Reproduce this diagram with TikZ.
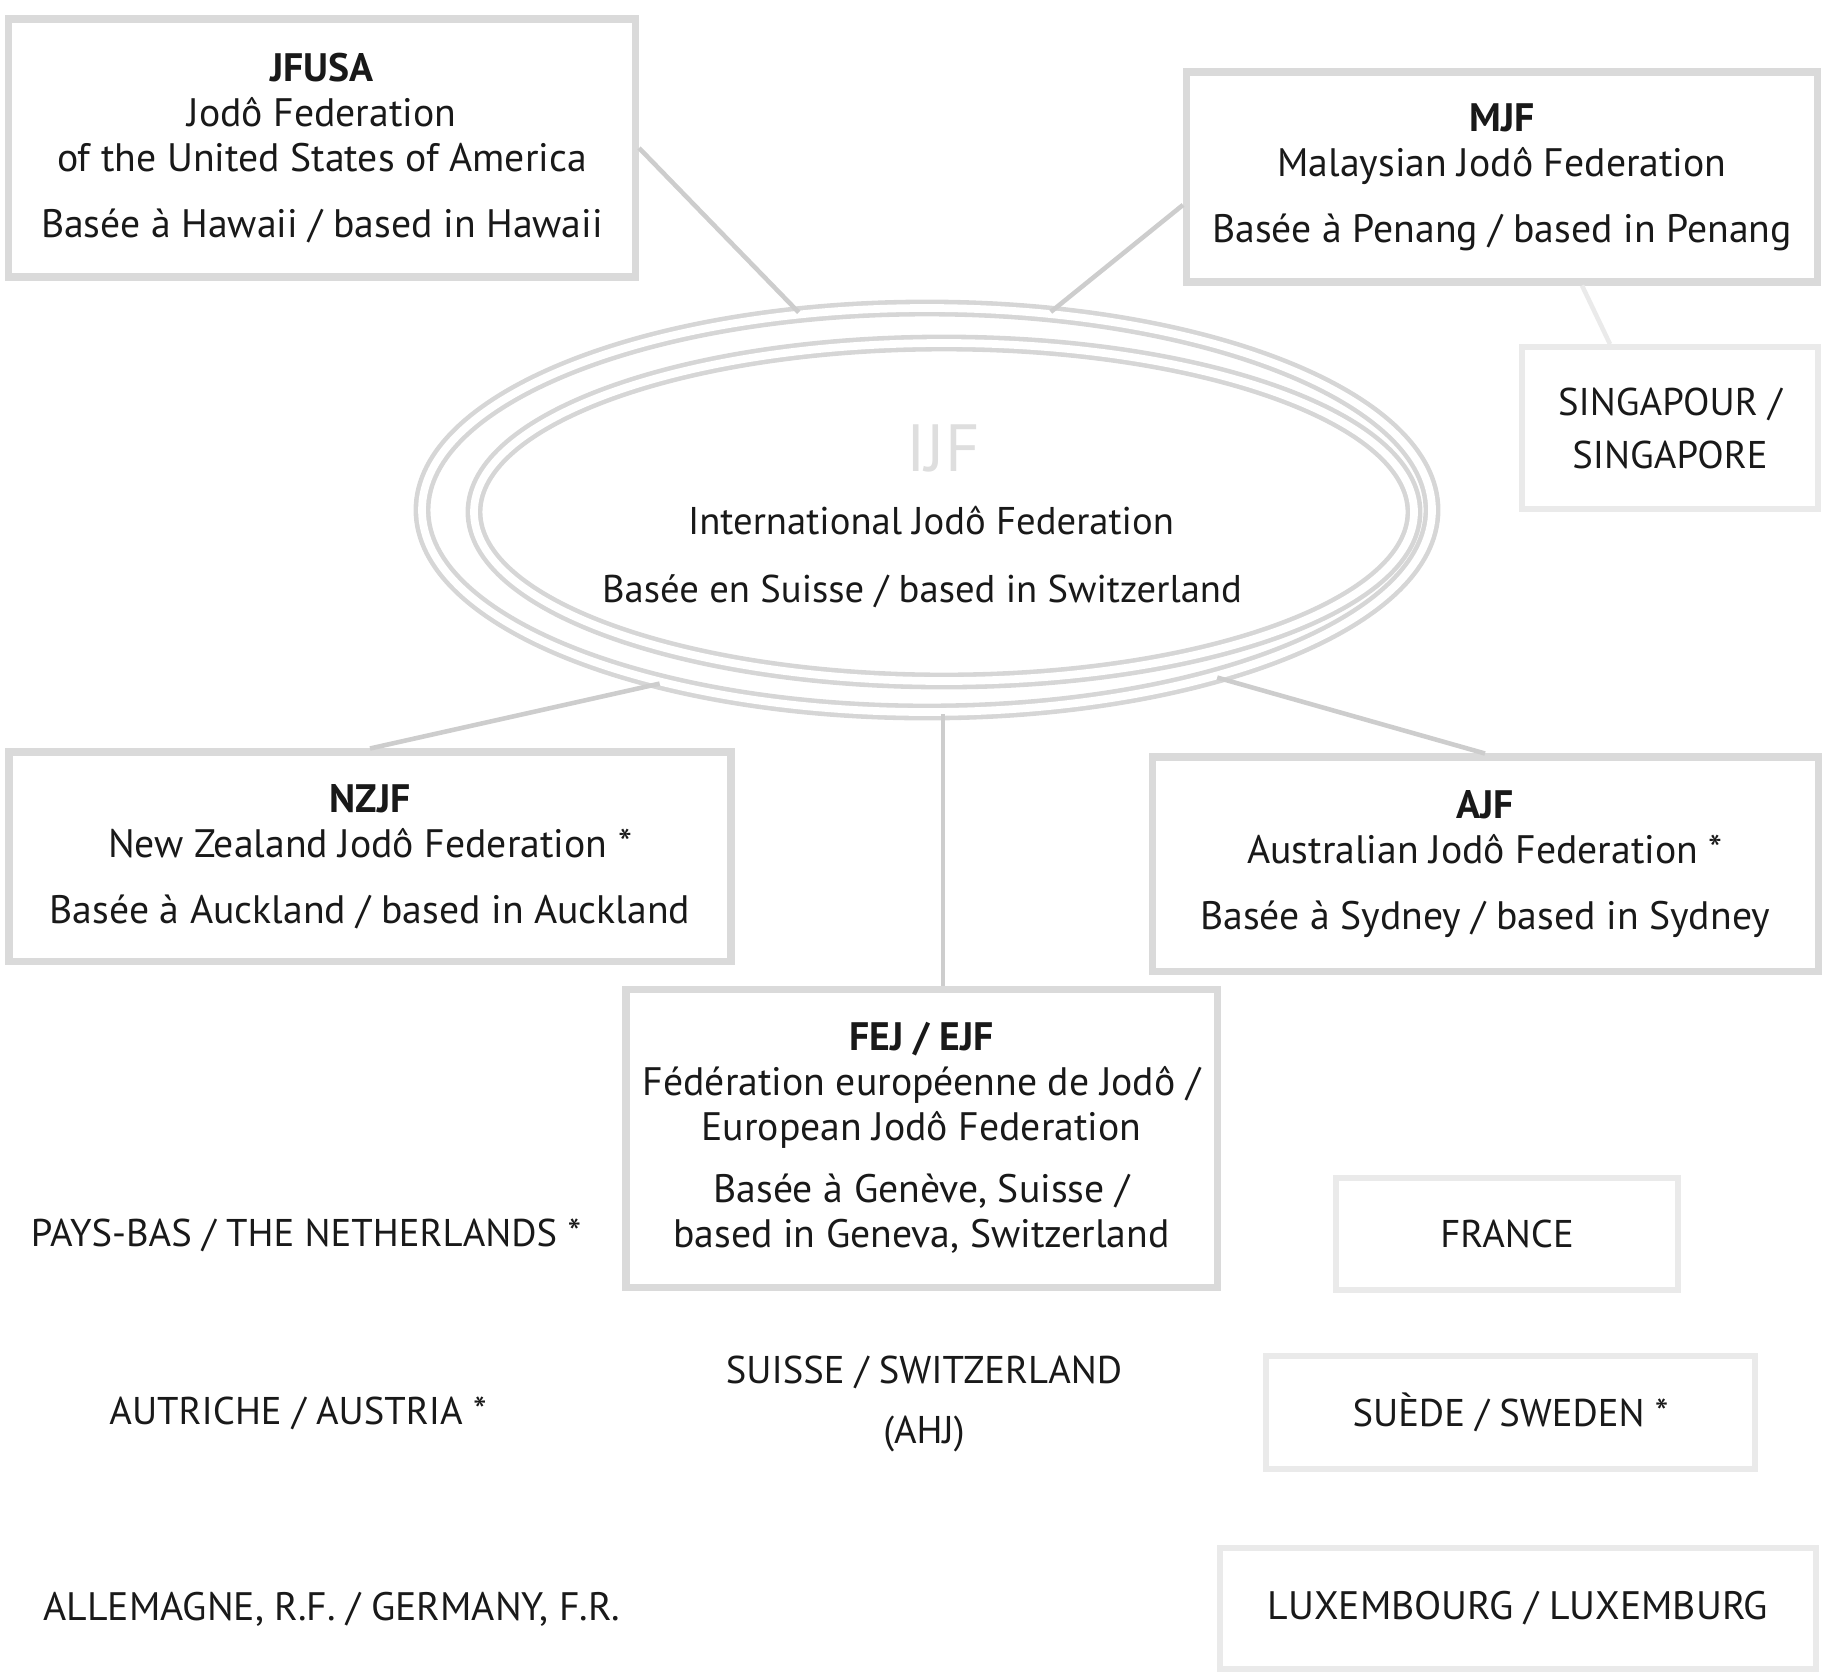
\documentclass[tikz,border=0pt]{standalone}
\usepackage{fontspec}
\setmainfont{PT Sans}
\usetikzlibrary{calc, shapes.geometric, positioning}
\definecolor{mytext}{RGB}{25,25,25}
\definecolor{myframe}{RGB}{218,218,218}
\definecolor{mypale}{RGB}{234,234,234}
\definecolor{myring}{RGB}{214,214,214}
\definecolor{mylink}{RGB}{205,205,205}
\definecolor{mylogo}{RGB}{222,222,222}
\newcommand{\fedsize}{\fontsize{11}{12.6}\selectfont}
\newcommand{\boxsize}{\fontsize{11.3}{12.8}\selectfont}
\tikzset{
  fedbox/.style={rectangle, draw=myframe, fill=white, line width=2pt,
    align=center, font=\boxsize, text=mytext, inner sep=0pt},
  landbox/.style={rectangle, draw=mypale, line width=1.6pt,
    align=center, font=\fedsize, text=mytext, inner sep=0pt},
  land/.style={align=center, font=\fedsize, text=mytext, inner sep=1pt},
  ring/.style={draw=myring, line width=1.3pt, double=white, double distance=2.2pt},
  link/.style={draw=mylink, line width=1.3pt}
}

\begin{document}
\begin{tikzpicture}
  \useasboundingbox (0,0) rectangle (18.25,-16.77);

  % International federation (double ring)
  \node[ellipse, ring, minimum width=10.1cm, minimum height=4.04cm] (ijf) at (9.27,-5.10) {};
  \draw[ring] (9.44,-5.12) ellipse (4.70 and 1.69);
  \node[font=\fontsize{19}{19}\selectfont, text=mylogo] (ijflogo) at (9.43,-4.48) {IJF};
  \node[land] (ijfname) at (9.31,-5.21) {International Jodô Federation};
  \node[land] (ijfbase) at (9.22,-5.91) {Basée en Suisse / based in Switzerland};

  % Continental and national federations
  \node[fedbox, minimum width=6.27cm, minimum height=2.58cm] (jfusa) at (3.22,-1.48)
    {\textbf{JFUSA}\\Jodô Federation\\of the United States of America\\[6pt]Basée à Hawaii / based in Hawaii};
  \node[fedbox, minimum width=6.31cm, minimum height=2.10cm] (mjf) at (15.02,-1.77)
    {\textbf{MJF}\\Malaysian Jodô Federation\\[6pt]Basée à Penang / based in Penang};
  \node[fedbox, minimum width=7.22cm, minimum height=2.09cm] (nzjf) at (3.70,-8.565)
    {\textbf{NZJF}\\New Zealand Jodô Federation *\\[6pt]Basée à Auckland / based in Auckland};
  \node[fedbox, minimum width=6.66cm, minimum height=2.14cm] (ajf) at (14.85,-8.64)
    {\textbf{AJF}\\Australian Jodô Federation *\\[6pt]Basée à Sydney / based in Sydney};
  \node[fedbox, minimum width=5.91cm, minimum height=2.98cm] (fej) at (9.215,-11.38)
    {\textbf{FEJ / EJF}\\Fédération européenne de Jodô /\\European Jodô Federation\\[5pt]Basée à Genève, Suisse /\\based in Geneva, Switzerland};

  % Member countries
  \node[landbox, minimum width=2.96cm, minimum height=1.62cm] (sing) at (16.70,-4.28)
    {SINGAPOUR /\\[2.5pt]SINGAPORE};
  \node[land] (netherlands) at (3.06,-12.35) {PAYS-BAS / THE NETHERLANDS *};
  \node[land] (austria) at (2.98,-14.13) {AUTRICHE / AUSTRIA *};
  \node[land, font=\boxsize] (germany) at (3.32,-16.09) {ALLEMAGNE, R.F. / GERMANY, F.R.};
  \node[land] (swiss) at (9.24,-14.04) {SUISSE / SWITZERLAND\\[4.5pt](AHJ)};
  \node[landbox, minimum width=3.42cm, minimum height=1.12cm] (france) at (15.07,-12.34) {FRANCE};
  \node[landbox, minimum width=4.89cm, minimum height=1.13cm] (sweden) at (15.105,-14.125) {SUÈDE / SWEDEN *};
  \node[landbox, font=\boxsize, minimum width=5.96cm, minimum height=1.21cm] (lux) at (15.18,-16.085) {LUXEMBOURG / LUXEMBURG};

  % Links
  \draw[link] (jfusa.east) -- (ijf.123);
  \draw[link] (mjf.185) -- (ijf.58);
  \draw[link] (ijf.213) -- (nzjf.north);
  \draw[link] (ijf.330) -- (ajf.north);
  \draw[link] (ijflogo |- ijf.south) -- (ijflogo |- fej.north);
  \draw[link, draw=mypale] ($(mjf.south)+(0.8,0)$) -- ($(sing.north)+(-0.6,0)$);
\end{tikzpicture}
\end{document}
